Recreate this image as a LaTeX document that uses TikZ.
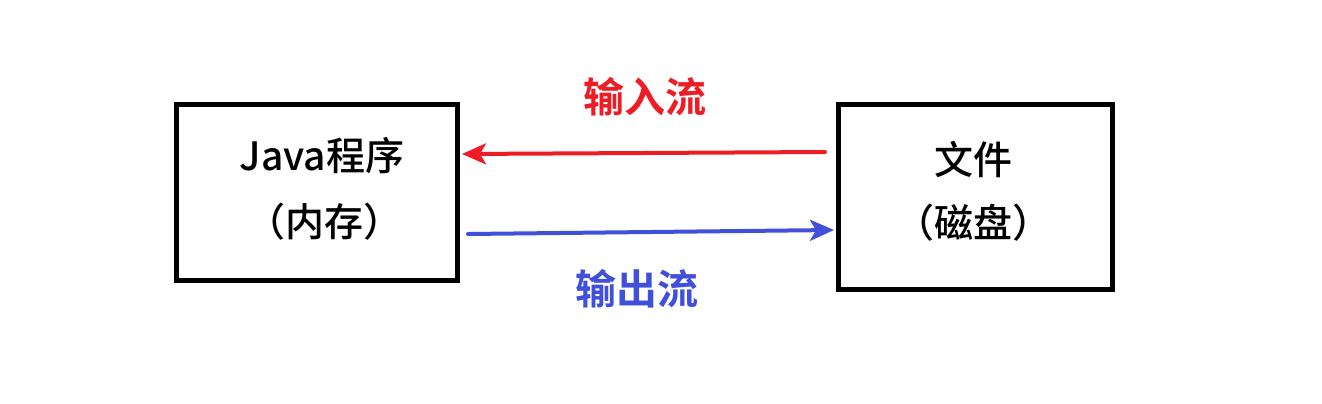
\documentclass[tikz,border=0pt]{standalone}
\usepackage{fontspec}
\setmainfont{Noto Sans CJK SC}
\newfontfamily\cjkb{Noto Sans CJK SC}[BoldFont={* Bold}]
\newfontfamily\cjkm{Noto Sans CJK SC}[BoldFont={* Medium}]
\usetikzlibrary{arrows.meta}
\definecolor{inred}{HTML}{EE1C24}
\definecolor{outblue}{HTML}{4050DA}
\begin{document}
\begin{tikzpicture}[x=1pt,y=-1pt,
  boxstyle/.style={draw=black,line width=5pt},
  boxtext/.style={font=\cjkm\bfseries\fontsize{39}{43}\selectfont,align=center,inner sep=0pt},
  flow/.style={line width=4pt,line cap=round,-{Stealth[length=24pt,width=21pt,inset=6pt]}},
  flowlabel/.style={font=\cjkb\bfseries\fontsize{41}{45}\selectfont,inner sep=0pt}]
\useasboundingbox (0,0) rectangle (1322,404);
\draw[boxstyle] (176,104.5) rectangle (457.5,280);
\draw[boxstyle] (838,104.5) rectangle (1112,289.5);
\node[boxtext] (java) at (322,156) {Java程序};
\node[boxtext] (mem) at (324,222) {（内存）};
\node[boxtext] (file) at (973,160) {文件};
\node[boxtext] (disk) at (973,223) {（磁盘）};
\coordinate (rs) at (825,152);
\coordinate (re) at (462,154);
\coordinate (bs) at (468,234);
\coordinate (be) at (834,230);
\draw[flow,inred] (rs) -- (re);
\draw[flow,outblue] (bs) -- (be);
\node[flowlabel,text=inred] (in) at (645,97) {输入流};
\node[flowlabel,text=outblue] (out) at (637,289) {输出流};
\end{tikzpicture}
\end{document}
